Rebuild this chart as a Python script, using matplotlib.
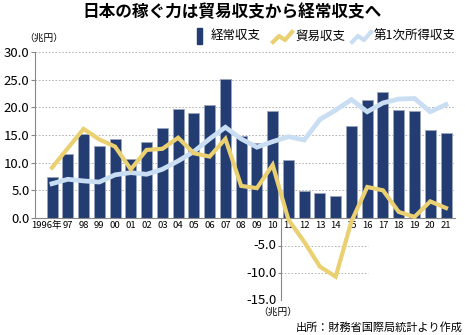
import matplotlib
matplotlib.use("Agg")
import matplotlib.pyplot as plt
from matplotlib.lines import Line2D
from matplotlib.patches import Rectangle
from matplotlib.transforms import ScaledTranslation
import numpy as np

plt.rcParams['font.family'] = ['Noto Sans CJK JP', 'DejaVu Sans']

# データ（兆円）
years = ["1996年", "97", "98", "99", "00", "01", "02", "03", "04", "05", "06", "07", "08",
         "09", "10", "11", "12", "13", "14", "15", "16", "17", "18", "19", "20", "21"]
current = [7.5, 11.6, 15.1, 13.1, 14.2, 10.6, 13.7, 16.2, 19.7, 18.9, 20.4, 25.1, 14.9,
           13.5, 19.4, 10.4, 4.8, 4.5, 3.9, 16.6, 21.4, 22.8, 19.5, 19.3, 15.9, 15.4]
trade = [9.1, 12.6, 16.1, 14.2, 12.9, 8.8, 12.3, 12.5, 14.5, 11.7, 11.1, 14.3, 5.8,
         5.4, 9.6, -0.3, -4.3, -8.8, -10.6, -0.6, 5.6, 5.0, 1.1, 0.2, 3.0, 1.8]
primary = [6.2, 7.0, 6.7, 6.5, 7.8, 8.2, 7.9, 8.8, 10.3, 12.0, 14.3, 16.4, 14.3,
           12.8, 13.8, 14.7, 14.1, 17.8, 19.5, 21.4, 19.2, 20.8, 21.5, 21.6, 19.2, 20.5]
pos_ticks = [0, 5, 10, 15, 20, 25, 30]
neg_ticks = [-5, -10, -15]

navy = "#233c72"
yellow = "#ead070"
lightblue = "#c9ddf3"
grey = "#888888"

W, H = 465, 335
fig = plt.figure(figsize=(W / 100, H / 100), dpi=100)


def px(x, y):
    # ピクセル座標 -> figure座標
    return x / W, 1 - y / H


ax = fig.add_axes([35 / W, 34 / H, 420 / W, 249 / H])
x = np.arange(len(years))
ax.set_xlim(-1.08, 25.57)
ax.set_ylim(-15, 30)

ax.bar(x, current, width=0.7, color=navy, edgecolor="#9aa6bd", linewidth=0.6, zorder=2)
ax.plot(x, primary, color=lightblue, linewidth=3.4, solid_joinstyle="miter", zorder=3)
ax.plot(x, trade, color=yellow, linewidth=3.0, solid_joinstyle="miter", zorder=4)

# 軸
for s in ["top", "right"]:
    ax.spines[s].set_visible(False)
ax.spines["bottom"].set_position(("data", 0))
ax.spines["bottom"].set_color(grey)
ax.spines["left"].set_bounds(0, 30)
ax.spines["left"].set_color(grey)
ax.set_yticks(pos_ticks)
ax.set_yticklabels([f"{v:.1f}" for v in pos_ticks], fontsize=9.5)
ax.tick_params(axis="y", length=3, color=grey, pad=1)
ax.set_xticks(x)
ax.set_xticklabels(years, fontsize=6.8)
ax.tick_params(axis="x", length=0, pad=2)
# 「1996年」は少し左へずらす
first = ax.get_xticklabels()[0]
first.set_transform(first.get_transform() + ScaledTranslation(-6 / 100, 0, fig.dpi_scale_trans))
ax.grid(axis="y", color="#aaaaaa", linestyle=(0, (2, 2)), linewidth=0.6, zorder=0)

# マイナス側の軸
nx = 14.5
ax.vlines(nx, -15, 0, color=grey, linewidth=0.8, zorder=1)
ax.hlines(neg_ticks, nx, 20.05, color="#aaaaaa", linestyle=(0, (2, 2)), linewidth=0.6, zorder=0)
ax.hlines(neg_ticks, nx - 0.19, nx, color=grey, linewidth=0.8)
for v in neg_ticks:
    ax.text(nx - 0.25, v, f"{v:.1f}", ha="right", va="center", fontsize=9.5)

# タイトル・注記
fig.text(*px(232, 12), "日本の稼ぐ力は貿易収支から経常収支へ", ha="center", va="center",
         fontsize=12, fontweight="bold")
fig.text(*px(24, 38), "（兆円）", ha="left", va="center", fontsize=7)
fig.text(*px(258, 312), "（兆円）", ha="left", va="center", fontsize=7)
fig.text(*px(463, 327), "出所：財務省国際局統計より作成", ha="right", va="center", fontsize=8)

# 凡例
fig.add_artist(Rectangle(px(197, 44), 5 / W, 16 / H, color=navy, transform=fig.transFigure))
fig.text(*px(211, 36), "経常収支", ha="left", va="center", fontsize=9)
for x0, col, label in [(273, yellow, "貿易収支"), (352, lightblue, "第1次所得収支")]:
    zx = [x0, x0 + 6, x0 + 12, x0 + 19]
    zy = [42, 36, 40, 32]
    fig.add_artist(Line2D([v / W for v in zx], [1 - v / H for v in zy], color=col,
                          linewidth=3, transform=fig.transFigure))
    fig.text(*px(x0 + 22, 36), label, ha="left", va="center", fontsize=9)

fig.savefig("out.png", dpi=100)
